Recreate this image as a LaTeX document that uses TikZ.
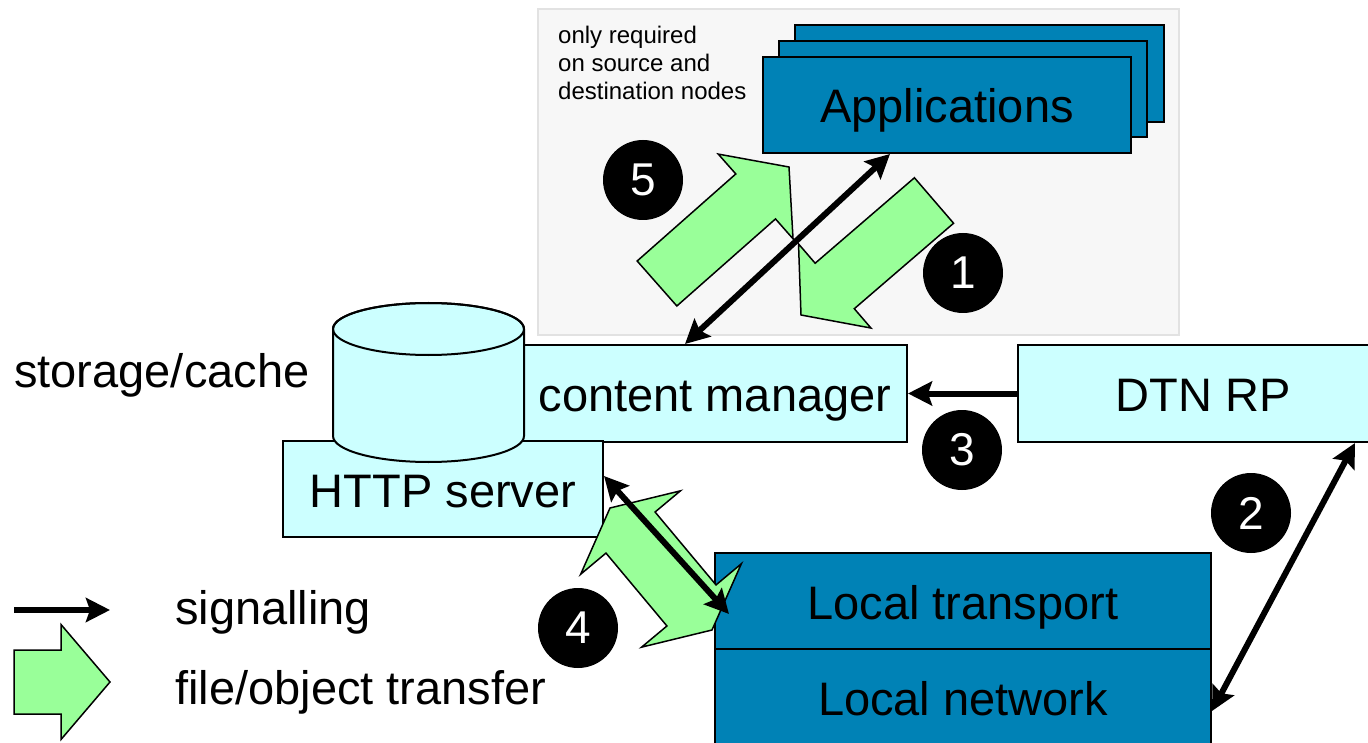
\documentclass[tikz,border=0pt]{standalone}
\usepackage{fontspec}
\setmainfont{Liberation Sans}
\usetikzlibrary{arrows.meta,calc}
\definecolor{appblue}{RGB}{0,130,182}
\definecolor{lcyan}{RGB}{204,255,255}
\definecolor{flowgreen}{RGB}{153,255,153}
\definecolor{panelgray}{RGB}{247,247,247}
\definecolor{panelline}{RGB}{226,226,226}
\newcommand{\lblfont}{\fontsize{47}{54}\selectfont}
\newcommand{\smlfont}{\fontsize{24}{28}\selectfont}
\newcommand{\numfont}{\fontsize{46}{50}\selectfont}
% single block arrow: #1 tail middle, #2 tip, #3 half shaft, #4 half head, #5 head length
\newcommand{\fatarrow}[5]{%
  \coordinate (fab) at ($(#2)!#5!(#1)$);
  \draw[flow] ($(#1)!#3!90:(#2)$) -- ($(fab)!#3!90:(#2)$) -- ($(fab)!#4!90:(#2)$) -- (#2)
    -- ($(fab)!#4!-90:(#2)$) -- ($(fab)!#3!-90:(#2)$) -- ($(#1)!#3!-90:(#2)$) -- cycle;}
% double block arrow between tips #1 and #2
\newcommand{\dfatarrow}[5]{%
  \coordinate (dfa) at ($(#1)!#5!(#2)$);
  \coordinate (dfb) at ($(#2)!#5!(#1)$);
  \draw[flow] (#1) -- ($(dfa)!#4!90:(#2)$) -- ($(dfa)!#3!90:(#2)$) -- ($(dfb)!#3!-90:(#1)$)
    -- ($(dfb)!#4!-90:(#1)$) -- (#2) -- ($(dfb)!#4!90:(#1)$) -- ($(dfb)!#3!90:(#1)$)
    -- ($(dfa)!#3!-90:(#2)$) -- ($(dfa)!#4!-90:(#2)$) -- cycle;}
\tikzset{
  box/.style={draw=black, line width=2pt, inner sep=0pt, text height=36pt, text depth=0pt, font=\lblfont},
  lightbox/.style={box, fill=lcyan},
  darkbox/.style={box, fill=appblue},
  flow/.style={draw=black, line width=1.5pt, fill=flowgreen, line join=miter},
  signal/.style={line width=6pt, draw=black, arrows={-Stealth[length=24pt,width=24pt,inset=4pt]}},
  dsignal/.style={signal, arrows={Stealth[length=24pt,width=24pt,inset=4pt]-Stealth[length=24pt,width=24pt,inset=4pt]}},
  numc/.style={circle, fill=black, minimum size=80pt, inner sep=0pt, text=white, font=\numfont},
  plain/.style={inner sep=0pt, font=\lblfont}
}
\begin{document}
\begin{tikzpicture}[x=1pt,y=-1pt]
\useasboundingbox (0,0) rectangle (1368,743);
\clip (0,0) rectangle (1368,743);
\fill[white] (0,0) rectangle (1368,743);
% panel
\node[draw=panelline, fill=panelgray, line width=1.5pt, minimum width=641pt, minimum height=326pt, inner sep=0pt] (panel) at (858.5,172) {};
\node[inner sep=0pt, anchor=north west, align=left, font=\smlfont] (note) at (558,25.5) {only required\\on source and\\destination nodes};
% applications stack
\node[darkbox, minimum width=369pt, minimum height=97pt] (app3) at (979.5,73.5) {};
\node[darkbox, minimum width=368pt, minimum height=96pt] (app2) at (963,89) {};
\node[darkbox, minimum width=368pt, minimum height=96pt] (app) at (947,105) {Applications};
% green arrows at top
\coordinate (f5t) at (657,283.5);
\coordinate (f5p) at (789,167);
\fatarrow{f5t}{f5p}{30pt}{56.5pt}{44.5pt}
\coordinate (f1t) at (934,200.5);
\coordinate (f1p) at (801,315);
\fatarrow{f1t}{f1p}{30pt}{55.5pt}{44.5pt}
% boxes
\node[lightbox, minimum width=384pt, minimum height=97pt] (cm) at (715,393.5) {content manager};
\node[lightbox, minimum width=370pt, minimum height=97pt] (dtn) at (1203,393.5) {DTN RP};
\node[lightbox, minimum width=320pt, minimum height=96pt] (http) at (443,489) {HTTP server};
% cylinder
\filldraw[fill=lcyan, draw=black, line width=2pt] (333,329) -- (333,436)
  arc[start angle=180, end angle=360, x radius=95.5pt, y radius=26pt] -- (524,329)
  arc[start angle=0, end angle=180, x radius=95.5pt, y radius=26pt] -- cycle;
\draw[line width=2pt] (428.5,329) ellipse[x radius=95.5pt, y radius=26pt];
\coordinate (cyl) at (428.5,382);
\node[plain, anchor=base west] (storage) at (14,387) {storage/cache};
% local stack
\node[darkbox, minimum width=496pt, minimum height=96pt] (tr) at (963,601) {Local transport};
\node[darkbox, minimum width=496pt, minimum height=96pt] (net) at (963,697) {Local network};
% signalling 1
\draw[dsignal] ([xshift=-30pt]cm.north) -- ([xshift=-57pt]app.south);
\node[numc] (n5) at (643,180) {5};
\node[numc] (n1) at (963,273) {1};
% transfer 4
\coordinate (f4a) at (610,508);
\coordinate (f4b) at (712,630);
\dfatarrow{f4a}{f4b}{32pt}{65pt}{32pt}
\draw[dsignal] ([yshift=13pt]http.east) -- ([xshift=15pt,yshift=-13pt]tr.west);
% signalling 2 and 3
\draw[dsignal] ([yshift=-14pt]net.east) -- ([xshift=152pt]dtn.south);
\draw[signal] (dtn.west) -- (cm.east);
\node[numc] (n2) at (1251,513) {2};
\node[numc] (n3) at (962,450) {3};
\node[numc] (n4) at (578,628) {4};
% legend
\coordinate (lsa) at (14,610);
\coordinate (lsb) at (110,610);
\draw[signal] (lsa) -- (lsb);
\node[plain, anchor=base west] (lsig) at (175,624) {signalling};
\coordinate (lgt) at (14,682);
\coordinate (lgp) at (110,682);
\fatarrow{lgt}{lgp}{32pt}{57.5pt}{49pt}
\node[plain, anchor=base west] (lflow) at (175,704) {file/object transfer};
\end{tikzpicture}
\end{document}
